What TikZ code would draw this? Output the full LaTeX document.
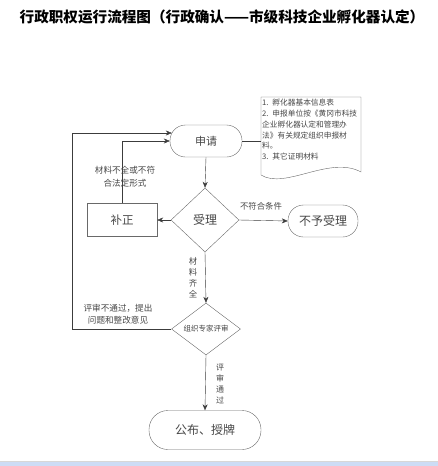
\documentclass[tikz,border=0pt]{standalone}
\usepackage{fontspec}
\setmainfont{Noto Sans CJK SC}
\usepackage{tikz}
\usetikzlibrary{arrows.meta,positioning,shapes.geometric}
\usepackage{xcolor}
\definecolor{linegray}{RGB}{60,60,60}
\definecolor{boxgray}{RGB}{105,105,105}
\definecolor{textgray}{RGB}{70,70,70}
\definecolor{bargray}{RGB}{215,215,215}
\definecolor{barblue}{RGB}{205,220,245}

\begin{document}
\begin{tikzpicture}[x=1pt,y=-1pt,
    terminal/.style={draw=boxgray,rounded corners=15.5pt,minimum width=72pt,minimum height=32pt,inner sep=0pt,text=textgray},
    decision/.style={draw=boxgray,diamond,inner sep=0pt,text=textgray},
    procbox/.style={draw=boxgray,rectangle,minimum width=70pt,minimum height=33pt,inner sep=0pt,text=textgray},
    flow/.style={draw=linegray,-{Stealth[length=6pt,width=5pt]}},
    note/.style={align=center,text=textgray,inner sep=1pt}]
        \useasboundingbox (0,0) rectangle (438,466);
        \node[font=\bfseries\fontsize{14.6}{16}\selectfont] (title) at (222,17) {行政职权运行流程图（行政确认——市级科技企业孵化器认定）};
        \node[terminal,font=\fontsize{11}{13}\selectfont] (apply) at (206,141) {申请};
        \node[anchor=north west,text width=98pt,inner sep=1pt,align=left,text=textgray,font=\fontsize{7.7}{10.8}\selectfont] (docnote) at (261,98) {1. 孵化器基本信息表\\2. 申报单位按《黄冈市科技\\企业孵化器认定和管理办\\法》有关规定组织申报材\\料。\\3. 其它证明材料};
        \draw[boxgray] (261,175) -- (261,97) -- (361,97) -- (361,172) .. controls (330,155) and (285,190) .. (261,175) -- cycle;
        \node[decision,minimum width=68pt,minimum height=64pt,font=\fontsize{12}{14}\selectfont] (accept) at (205,220) {受理};
        \node[procbox,font=\fontsize{11.5}{13}\selectfont] (fix) at (122,220) {补正};
        \node[terminal,minimum width=70pt,font=\fontsize{12}{14}\selectfont] (reject) at (323,221) {不予受理};
        \node[decision,minimum width=69pt,minimum height=48pt,font=\fontsize{7.5}{9}\selectfont] (review) at (206,329) {组织专家评审};
        \node[terminal,minimum width=112pt,minimum height=39pt,rounded corners=19pt,font=\fontsize{12}{14}\selectfont] (publish) at (205,430) {公布、授牌};
        \coordinate (loopx) at (72,329);
        \draw[linegray] (apply.east) -- (apply.east -| docnote.west);
        \draw[flow] (apply.south) -- (accept.north);
        \draw[flow] (accept.west) -- (fix.east);
        \draw[flow] (fix.north) |- (apply.west);
        \draw[flow] (accept.east) -- (reject.west);
        \draw[flow] (accept.south) -- (review.north);
        \draw[flow] (review.west) -- (loopx) |- ([xshift=2pt,yshift=8pt]apply.west);
        \draw[flow] (review.south) -- (publish.north);
        \node[note,font=\fontsize{8.6}{13}\selectfont] (lblfix) at (125,177) {材料不全或不符\\合法定形式};
        \node[note,font=\fontsize{8.4}{10}\selectfont] (lblreject) at (261,206) {不符合条件};
        \node[note,font=\fontsize{8.4}{11}\selectfont] (lblfull) at (193,278) {材\\料\\齐\\全};
        \node[note,font=\fontsize{8.6}{12.5}\selectfont] (lblback) at (118,314) {评审不通过，提出\\问题和整改意见};
        \node[note,font=\fontsize{8}{11}\selectfont] (lblpass) at (220,384) {评\\审\\通\\过};
        \fill[barblue] (0,462) rectangle (438,466);
        \draw[bargray] (0,461.5) -- (438,461.5);
      \end{tikzpicture}
\end{document}
